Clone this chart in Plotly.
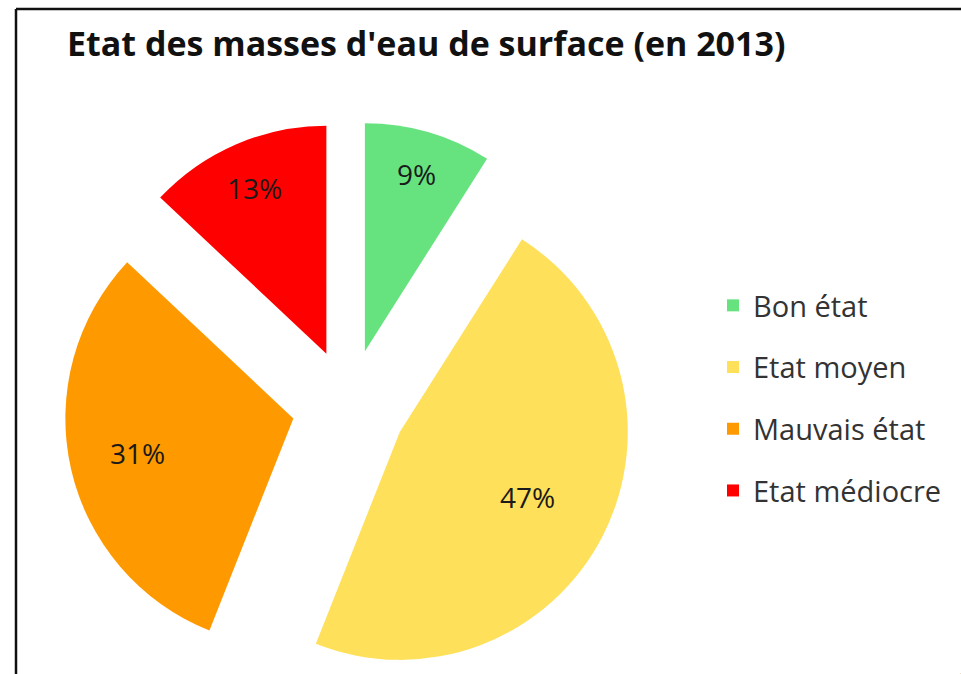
import math
import plotly.graph_objects as go

# ---------------- data ----------------
labels = ["Bon état", "Etat moyen", "Mauvais état", "Etat médiocre"]
values = [9, 47, 31, 13]
title_text = "Etat des masses d'eau de surface (en 2013)"

# ---------------- style ----------------
colors = ["#66E37F", "#FFE05A", "#FF9900", "#FF0000"]
W, H = 961, 674
CX, CY = 349, 406        # pie centre (px) before explosion
R = 228                  # pie radius (px)
PULL = 0.25              # explosion, fraction of radius
LABEL_R = [0.81, 0.63, 0.70, 0.79]   # label distance from slice apex (fraction of R)
FONT = "Open Sans"
TRANSPARENT = "rgba(0,0,0,0)"

total = float(sum(values))
fig = go.Figure()
annotations = []

cum = 0.0
for i, v in enumerate(values):
    start = cum / total * 360.0
    mid = math.radians(start + v / total * 180.0)
    cum += v
    d = PULL * R
    ax = CX + d * math.sin(mid)
    ay = CY - d * math.cos(mid)
    dom_x = [(ax - R) / W, (ax + R) / W]
    dom_y = [1 - (ay + R) / H, 1 - (ay - R) / H]
    fig.add_trace(go.Pie(
        values=values,
        labels=labels,
        sort=False,
        direction="clockwise",
        rotation=0,
        marker=dict(colors=[colors[j] if j == i else TRANSPARENT for j in range(len(values))],
                    line=dict(width=0)),
        textinfo="none",
        hoverinfo="label+percent",
        domain=dict(x=dom_x, y=dom_y),
        showlegend=False,
    ))
    lx = ax + LABEL_R[i] * R * math.sin(mid)
    ly = ay - LABEL_R[i] * R * math.cos(mid)
    annotations.append(dict(
        x=lx / W, y=1 - ly / H, xref="paper", yref="paper",
        text=f"{v / total * 100:.0f}%", showarrow=False,
        xanchor="center", yanchor="middle",
        font=dict(family=FONT, size=28, color="#1a1a1a"),
    ))

# legend-only traces (one per category so entries can be spaced); drawn with a vanishing domain
for i, lab in enumerate(labels):
    fig.add_trace(go.Pie(
        values=[values[i]],
        labels=[lab],
        marker=dict(colors=[colors[i]], line=dict(width=0)),
        textinfo="none",
        domain=dict(x=[0.9995, 1], y=[0, 0.0005]),
        legendgroup=lab,
        showlegend=True,
        hoverinfo="skip",
    ))

fig.update_layout(
    width=W, height=H,
    margin=dict(l=0, r=0, t=0, b=0),
    paper_bgcolor="white",
    plot_bgcolor="white",
    title=dict(text=title_text, x=67 / W, xanchor="left", y=1 - 44 / H, yanchor="middle",
               font=dict(family=FONT, size=34, weight="bold", color="#111111")),
    legend=dict(x=713 / W, xanchor="left", y=1 - 398 / H, yanchor="middle",
                traceorder="grouped", tracegroupgap=21, itemwidth=30,
                font=dict(family=FONT, size=29, color="#333333"),
                bgcolor="rgba(0,0,0,0)"),
    annotations=annotations,
    shapes=[
        dict(type="line", xref="paper", yref="paper",
             x0=16 / W, x1=16 / W, y0=0, y1=1 - 9 / H,
             line=dict(color="#111111", width=2.5), layer="above"),
        dict(type="line", xref="paper", yref="paper",
             x0=16 / W, x1=1, y0=1 - 9 / H, y1=1 - 9 / H,
             line=dict(color="#111111", width=2.5), layer="above"),
    ],
)

fig.write_html("out.html", config={"displayModeBar": False},
               post_script="document.body.style.margin='0';")
